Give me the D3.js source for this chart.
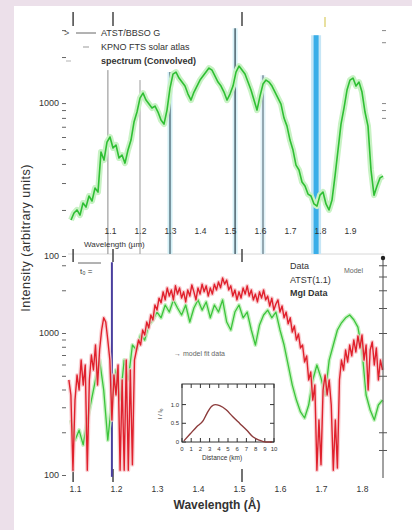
<!DOCTYPE html>
<html>
<head>
<meta charset="utf-8">
<script src="https://cdn.jsdelivr.net/npm/d3@7"></script>
<style>
  html, body { margin: 0; padding: 0; background: #ece0ea; }
  svg { display: block; font-family: "Liberation Sans", Arial, sans-serif; }
</style>
</head>
<body>
<svg id="chart" width="412" height="530"></svg>
<script>
// ---------- data ----------
// Upper panel: convolved spectrum, wavelength (µm) vs intensity
const topSpectrum = [
  [0.97,172],[0.98,191],[0.99,200],[1.00,185],[1.01,222],[1.02,209],[1.03,247],[1.04,229],
  [1.05,278],[1.06,262],[1.07,478],[1.08,424],[1.09,556],[1.10,600],[1.11,508],[1.12,532],
  [1.13,437],[1.14,457],[1.15,405],[1.16,493],[1.17,573],[1.18,751],[1.19,874],[1.20,1078],
  [1.21,1163],[1.22,1046],[1.23,985],[1.24,928],[1.25,956],[1.26,874],[1.27,774],[1.28,729],
  [1.29,900],[1.30,1253],[1.31,1547],[1.32,1594],[1.33,1457],[1.34,1372],[1.35,1292],[1.36,1145],
  [1.37,1046],[1.38,1180],[1.39,1292],[1.40,1414],[1.41,1502],[1.42,1594],[1.43,1693],[1.44,1643],
  [1.45,1502],[1.46,1372],[1.47,1292],[1.48,1180],[1.49,1046],[1.50,1145],[1.51,1292],[1.52,1594],
  [1.53,1745],[1.54,1643],[1.55,1547],[1.56,1372],[1.57,1216],[1.58,1046],[1.59,900],[1.60,1111],
  [1.61,1331],[1.62,1414],[1.63,1372],[1.64,1292],[1.65,1180],[1.66,1078],[1.67,985],[1.68,798],
  [1.69,707],[1.70,573],[1.71,493],[1.72,393],[1.73,365],[1.74,305],[1.75,287],[1.76,254],
  [1.77,247],[1.78,219],[1.79,212],[1.80,250],[1.81,262],[1.82,219],[1.83,200],[1.84,232],
  [1.85,333],[1.86,493],[1.87,729],[1.88,928],[1.89,1216],[1.90,1414],[1.91,1457],[1.92,1292],
  [1.93,1372],[1.94,1180],[1.95,874],[1.96,707],[1.97,365],[1.98,250],[1.99,287],[2.00,324],
  [2.01,333]
];
const topTicks = [1.1, 1.2, 1.3, 1.4, 1.5, 1.6, 1.7, 1.8, 1.9];
const topLineWl  = [1.093, 1.20, 1.30, 1.517, 1.61];
const topLineTop = [1643, 1414, 1594, 3090, 1520];
const bandWl = 1.787, bandTop = 2780;
const markerWl = [0.977, 1.11, 1.54];
const legendLabels = ["ATST/BBSO G", "KPNO FTS solar atlas", "spectrum (Convolved)"];

// Lower panel: observed (red) and model (green) spectra, wavelength (Å) vs intensity
const dataSpectrum = [
  [1.085,467],[1.090,366],[1.095,108],[1.100,337],[1.105,506],[1.110,397],[1.115,645],[1.120,430],
  [1.125,595],[1.130,108],[1.135,467],[1.140,700],[1.145,549],[1.150,823],[1.155,430],[1.160,759],
  [1.165,1050],[1.170,1280],[1.175,1195],[1.180,893],[1.185,645],[1.190,244],[1.195,506],[1.200,366],
  [1.205,595],[1.210,108],[1.215,467],[1.220,108],[1.225,645],[1.230,108],[1.235,549],[1.240,118],
  [1.245,645],[1.250,759],[1.255,893],[1.260,823],[1.265,1050],[1.270,968],[1.275,1195],[1.280,1085],
  [1.285,1340],[1.290,1235],[1.295,1575],[1.300,1450],[1.305,1760],[1.310,1630],[1.315,1950],[1.320,1710],
  [1.325,2080],[1.330,1820],[1.335,2010],[1.340,1710],[1.345,2150],[1.350,1880],[1.355,2080],[1.360,1760],
  [1.365,1950],[1.370,1655],[1.375,2010],[1.380,1820],[1.385,2180],[1.390,1950],[1.395,1710],[1.400,2080],
  [1.405,1880],[1.410,2210],[1.415,1950],[1.420,2150],[1.425,1820],[1.430,2080],[1.435,1880],[1.440,2210],
  [1.445,2010],[1.450,2290],[1.455,2080],[1.460,2440],[1.465,2210],[1.470,2360],[1.475,2010],[1.480,2150],
  [1.485,1820],[1.490,2010],[1.495,1710],[1.500,1950],[1.505,1760],[1.510,2080],[1.515,1880],[1.520,2150],
  [1.525,1820],[1.530,2010],[1.535,1710],[1.540,1880],[1.545,1655],[1.550,1950],[1.555,1760],[1.560,2010],
  [1.565,1710],[1.570,1820],[1.575,1550],[1.580,1760],[1.585,1450],[1.590,1600],[1.595,1710],[1.600,1405],
  [1.605,1550],[1.610,1280],[1.615,1405],[1.620,1160],[1.625,1280],[1.630,1015],[1.635,1120],[1.640,893],
  [1.645,985],[1.650,785],[1.655,823],[1.660,625],[1.665,690],[1.670,467],[1.675,532],[1.680,337],
  [1.685,430],[1.690,108],[1.695,244],[1.700,118],[1.705,397],[1.710,506],[1.715,366],[1.720,467],
  [1.725,311],[1.730,108],[1.735,244],[1.740,112],[1.745,467],[1.750,645],[1.755,549],[1.760,759],
  [1.765,625],[1.770,823],[1.775,690],[1.780,893],[1.785,735],[1.790,953],[1.795,785],[1.800,968],
  [1.805,645],[1.810,823],[1.815,397],[1.820,759],[1.825,865],[1.830,595],[1.835,785],[1.840,467],
  [1.845,645],[1.850,549]
];
const modelSpectrum = [
  [1.09,244],[1.10,176],[1.11,207],[1.12,163],[1.13,244],[1.14,337],[1.15,467],[1.16,645],
  [1.17,397],[1.18,176],[1.19,337],[1.20,549],[1.21,337],[1.22,645],[1.23,467],[1.24,823],
  [1.25,759],[1.26,968],[1.27,893],[1.28,1140],[1.29,1235],[1.30,1405],[1.31,1280],[1.32,1575],
  [1.33,1405],[1.34,1710],[1.35,1500],[1.36,1340],[1.37,1575],[1.38,1195],[1.39,1500],[1.40,1710],
  [1.41,1450],[1.42,1655],[1.43,1280],[1.44,1575],[1.45,1405],[1.46,1710],[1.47,1195],[1.48,1050],
  [1.49,1405],[1.50,1575],[1.51,1280],[1.52,1405],[1.53,1050],[1.54,823],[1.55,1140],[1.56,1340],
  [1.57,1450],[1.58,1280],[1.59,1405],[1.60,1050],[1.61,823],[1.62,595],[1.63,430],[1.64,337],
  [1.65,278],[1.66,252],[1.67,311],[1.68,467],[1.69,595],[1.70,483],[1.71,366],[1.72,645],
  [1.73,823],[1.74,1050],[1.75,1180],[1.76,1280],[1.77,1340],[1.78,1240],[1.79,1100],[1.80,759],
  [1.81,366],[1.82,287],[1.83,244],[1.84,311],[1.85,337]
];
const bottomTicks = [1.1, 1.2, 1.3, 1.4, 1.5, 1.6, 1.7, 1.8];
const mgLineWl = 1.19, mgLineTop = 3150;
const bottomLegend = ["Data", "ATST(1.1)", "MgI Data"];

// Inset: normalised profile vs distance
const insetProfile = [
  [0.2,0.03],[0.9,0.22],[1.6,0.41],[2.3,0.57],[2.7,0.76],[3.2,0.95],[3.6,1.00],[4.1,0.97],
  [4.8,0.86],[5.5,0.68],[6.3,0.49],[7.1,0.30],[7.7,0.14],[8.4,0.05],[9.1,0.0],[9.8,0.0]
];
const insetXTicks = [0,1,2,3,4,5,6,7,8,9,10];
const insetYTicks = [0, 0.5, 1.0];

// ---------- scales ----------
const xTop = d3.scaleLinear().domain([1.1, 1.9]).range([110, 350]);
const yTop = d3.scaleLog().domain([100, 4000]).range([256, 11]);
const xBot = d3.scaleLinear().domain([1.1, 1.8]).range([75, 362]);
const yBot = d3.scaleLog().domain([100, 3375]).range([475, 258]);
const xIn = d3.scaleLinear().domain([0, 10]).range([182, 274]);
const yIn = d3.scaleLinear().domain([0, 1.55]).range([442, 384]);

const svg = d3.select("#chart");
svg.append("rect").attr("x", 14).attr("y", 6).attr("width", 398).attr("height", 524).attr("fill", "#fff");

const txt = "#333";

// ---------- upper panel ----------
const gT = svg.append("g");

// separator under the upper panel
gT.append("line").attr("x1", 68).attr("x2", 384).attr("y1", 254).attr("y2", 254)
  .attr("stroke", "#d8d8d8").attr("stroke-width", 1);

// reference wavelength lines
const lineCore = ["#8a8a8a", "#9a9a9a", "#4a6470", "#3a4f5a", "#6a7f8a"];
const lineGlow = ["none", "none", "#d2eff6", "#d6f0f7", "#e0f2f8"];
topLineWl.forEach((wl, i) => {
  const x = xTop(wl), y1 = yTop(topLineTop[i]);
  if (lineGlow[i] !== "none") {
    gT.append("line").attr("x1", x).attr("x2", x).attr("y1", y1).attr("y2", 254)
      .attr("stroke", lineGlow[i]).attr("stroke-width", 5);
  }
  gT.append("line").attr("x1", x).attr("x2", x).attr("y1", y1).attr("y2", 254)
    .attr("stroke", lineCore[i]).attr("stroke-width", i >= 2 ? 1.3 : 1);
});
// broad absorption band
gT.append("line").attr("x1", xTop(bandWl)).attr("x2", xTop(bandWl))
  .attr("y1", yTop(bandTop)).attr("y2", 254)
  .attr("stroke", "#c6e6f6").attr("stroke-width", 10);
gT.append("line").attr("x1", xTop(bandWl)).attr("x2", xTop(bandWl))
  .attr("y1", yTop(bandTop)).attr("y2", 254)
  .attr("stroke", "#3aaee8").attr("stroke-width", 5);

// short marker ticks
markerWl.forEach(wl => {
  const x = xTop(wl);
  [[12, 26], [249, 262], [469, 482]].forEach(([a, b]) => {
    svg.append("line").attr("x1", x).attr("x2", x).attr("y1", a).attr("y2", b)
      .attr("stroke", "#444").attr("stroke-width", 1.5);
  });
});
svg.append("line").attr("x1", 325).attr("x2", 325).attr("y1", 17).attr("y2", 27)
  .attr("stroke", "#e8e0a0").attr("stroke-width", 2);

// spectrum
const lineTop = d3.line().x(d => xTop(d[0])).y(d => yTop(d[1]));
gT.append("path").datum(topSpectrum).attr("d", lineTop)
  .attr("fill", "none").attr("stroke", "#c8f2c4").attr("stroke-width", 6).attr("stroke-linejoin", "round");
gT.append("path").datum(topSpectrum).attr("d", lineTop)
  .attr("fill", "none").attr("stroke", "#2fbf34").attr("stroke-width", 1.6).attr("stroke-linejoin", "round");

// left axis (log)
const leftTop = gT.append("g").attr("transform", "translate(66,0)")
  .call(d3.axisLeft(yTop).tickValues([100,200,300,400,500,600,700,800,900,1000,2000,3000])
    .tickSize(4).tickFormat(d => (d === 100 || d === 1000) ? d : ""));
leftTop.select(".domain").remove();
leftTop.selectAll("line").attr("stroke", "#666");
leftTop.selectAll("text").attr("font-size", 9).attr("fill", txt)
  .attr("font-family", "Liberation Sans, Arial, sans-serif");

// right axis ticks
const rightTop = gT.append("g").attr("transform", "translate(382,0)")
  .call(d3.axisRight(yTop).tickValues([800, 900, 1000, 2500, 3000]).tickSize(4).tickFormat(""));
rightTop.select(".domain").remove();
rightTop.selectAll("line").attr("stroke", "#888");

// wavelength tick labels inside the upper panel
const axTop = gT.append("g").attr("transform", "translate(0,221)")
  .call(d3.axisBottom(xTop).tickValues(topTicks).tickSize(0).tickPadding(7).tickFormat(d3.format(".1f")));
axTop.select(".domain").remove();
axTop.selectAll("text").attr("font-size", 8.5).attr("fill", txt)
  .attr("font-family", "Liberation Sans, Arial, sans-serif");
gT.append("text").attr("x", 84).attr("y", 247).attr("font-size", 8).attr("fill", txt)
  .text("Wavelength (µm)");

// legend
svg.append("text").attr("x", 64).attr("y", 36).attr("font-size", 9).attr("fill", "#555").text(">");
svg.append("line").attr("x1", 76).attr("x2", 96).attr("y1", 33).attr("y2", 33)
  .attr("stroke", "#666").attr("stroke-width", 1);
svg.append("line").attr("x1", 83).attr("x2", 89).attr("y1", 47).attr("y2", 47)
  .attr("stroke", "#bbb").attr("stroke-width", 1.5);
svg.append("line").attr("x1", 66).attr("x2", 71).attr("y1", 61).attr("y2", 61)
  .attr("stroke", "#ccc").attr("stroke-width", 1.5);
legendLabels.forEach((t, i) => {
  svg.append("text").attr("x", 101).attr("y", 36 + i * 14).attr("font-size", 9)
    .attr("font-weight", i === 2 ? "bold" : "normal").attr("fill", txt).text(t);
});

// ---------- lower panel ----------
const gB = svg.append("g");

// Mg line marker
gB.append("line").attr("x1", xBot(mgLineWl)).attr("x2", xBot(mgLineWl))
  .attr("y1", yBot(mgLineTop)).attr("y2", yBot(97))
  .attr("stroke", "#4a3f9e").attr("stroke-width", 2);

const lineBot = d3.line().x(d => xBot(d[0])).y(d => yBot(d[1]));
// model (green)
gB.append("path").datum(modelSpectrum).attr("d", lineBot)
  .attr("fill", "none").attr("stroke", "#c9f2c4").attr("stroke-width", 4).attr("stroke-linejoin", "round");
gB.append("path").datum(modelSpectrum).attr("d", lineBot)
  .attr("fill", "none").attr("stroke", "#3cc43c").attr("stroke-width", 1.3).attr("stroke-linejoin", "round");
// data (red)
gB.append("path").datum(dataSpectrum).attr("d", lineBot)
  .attr("fill", "none").attr("stroke", "#f8c4c8").attr("stroke-width", 4).attr("stroke-linejoin", "round")
  .attr("opacity", 0.8);
gB.append("path").datum(dataSpectrum).attr("d", lineBot)
  .attr("fill", "none").attr("stroke", "#e0202c").attr("stroke-width", 1.4).attr("stroke-linejoin", "round");

// left axis (log)
const leftBot = gB.append("g").attr("transform", "translate(66,0)")
  .call(d3.axisLeft(yBot).tickValues([100,200,300,400,500,600,700,800,900,1000,2000,3000])
    .tickSize(4).tickFormat(d => (d === 100 || d === 1000) ? d : ""));
leftBot.select(".domain").remove();
leftBot.selectAll("line").attr("stroke", "#666");
leftBot.selectAll("text").attr("font-size", 9).attr("fill", txt)
  .attr("font-family", "Liberation Sans, Arial, sans-serif");

// right axis
const rightBot = gB.append("g").attr("transform", "translate(383,0)")
  .call(d3.axisRight(yBot).tickValues([3000, 2500, 2000, 1500, 1000, 500, 200, 150]).tickSize(4).tickFormat(""));
rightBot.select(".domain").attr("stroke", "#444").attr("d", "M0,258V478");
rightBot.selectAll("line").attr("stroke", "#555").attr("x1", -4);
gB.append("circle").attr("cx", 383).attr("cy", 258).attr("r", 2.2).attr("fill", "#222");

// bottom wavelength axis
const axBot = gB.append("g").attr("transform", "translate(0,480)")
  .call(d3.axisBottom(xBot).tickValues(bottomTicks).tickSize(0).tickPadding(6).tickFormat(d3.format(".1f")));
axBot.select(".domain").remove();
axBot.selectAll("text").attr("font-size", 8.5).attr("fill", txt)
  .attr("font-family", "Liberation Sans, Arial, sans-serif");
svg.append("text").attr("x", 217).attr("y", 509).attr("text-anchor", "middle")
  .attr("font-size", 12).attr("font-weight", "bold").attr("fill", "#333").text("Wavelength (Å)");

// annotations in the lower panel
gB.append("line").attr("x1", 78).attr("x2", 101).attr("y1", 263).attr("y2", 263)
  .attr("stroke", "#666").attr("stroke-width", 1);
gB.append("text").attr("x", 80).attr("y", 274).attr("font-size", 8).attr("fill", txt).text("t₀ =");
bottomLegend.forEach((t, i) => {
  gB.append("text").attr("x", 290).attr("y", 269 + i * 13.5).attr("font-size", 9)
    .attr("font-weight", i === 2 ? "bold" : "normal").attr("fill", txt).text(t);
});
gB.append("text").attr("x", 344).attr("y", 273).attr("font-size", 7).attr("fill", "#666").text("Model");
gB.append("text").attr("x", 174).attr("y", 356).attr("font-size", 7).attr("fill", "#666").text("→ model fit data");

// ---------- inset ----------
const gI = svg.append("g");
gI.append("rect").attr("x", 182).attr("y", 384).attr("width", 92).attr("height", 58)
  .attr("fill", "#fff").attr("stroke", "#333").attr("stroke-width", 1);
insetXTicks.forEach(v => {
  gI.append("line").attr("x1", xIn(v)).attr("x2", xIn(v)).attr("y1", 384).attr("y2", 388).attr("stroke", "#333");
  gI.append("line").attr("x1", xIn(v)).attr("x2", xIn(v)).attr("y1", 438).attr("y2", 442).attr("stroke", "#333");
  gI.append("text").attr("x", xIn(v)).attr("y", 451).attr("text-anchor", "middle")
    .attr("font-size", 6).attr("fill", txt).text(v);
});
insetYTicks.forEach(v => {
  gI.append("line").attr("x1", 182).attr("x2", 186).attr("y1", yIn(v)).attr("y2", yIn(v)).attr("stroke", "#333");
  gI.append("line").attr("x1", 270).attr("x2", 274).attr("y1", yIn(v)).attr("y2", yIn(v)).attr("stroke", "#333");
  gI.append("text").attr("x", 179).attr("y", yIn(v) + 2).attr("text-anchor", "end")
    .attr("font-size", 6).attr("fill", txt).text(v === 0 ? "0" : v.toFixed(1));
});
gI.append("text").attr("transform", "translate(162,414) rotate(-90)").attr("text-anchor", "middle")
  .attr("font-size", 6).attr("fill", txt).text("I / I₀");
gI.append("text").attr("x", 222).attr("y", 460).attr("text-anchor", "middle")
  .attr("font-size", 6.5).attr("fill", txt).text("Distance (km)");
gI.append("path").datum(insetProfile)
  .attr("d", d3.line().x(d => xIn(d[0])).y(d => yIn(d[1])).curve(d3.curveMonotoneX))
  .attr("fill", "none").attr("stroke", "#8c3b3b").attr("stroke-width", 1.4);

// ---------- shared y title ----------
svg.append("text").attr("transform", "translate(30,238) rotate(-90)").attr("text-anchor", "middle")
  .attr("font-size", 12.5).attr("fill", "#333").attr("letter-spacing", 0.5)
  .text("Intensity (arbitrary units)");
</script>
</body>
</html>
